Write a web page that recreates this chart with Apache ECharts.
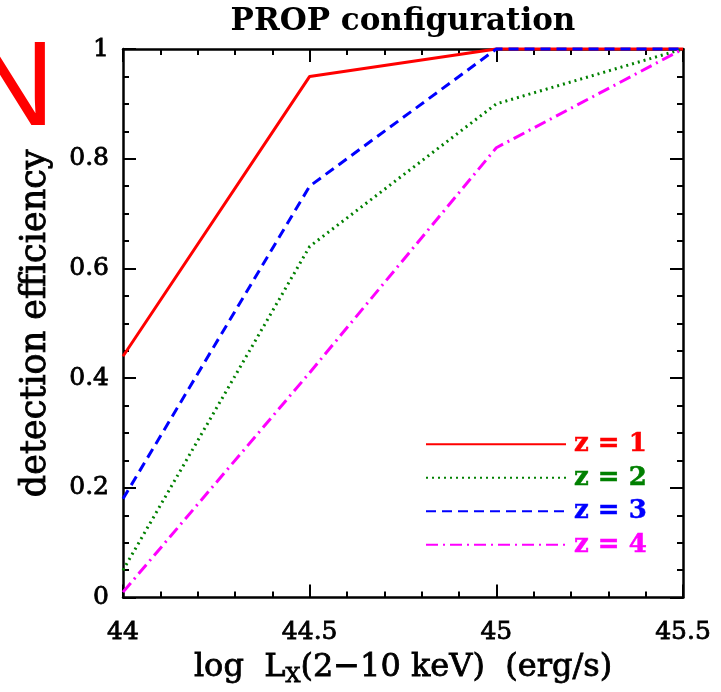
<!DOCTYPE html>
<html>
<head>
<meta charset="utf-8">
<script src="https://cdn.jsdelivr.net/npm/echarts@6/dist/echarts.min.js"></script>
<style>
  html, body { margin: 0; padding: 0; background: #fff; }
  #chart { width: 721px; height: 692px; }
</style>
</head>
<body>
<div id="chart"></div>
<script>
// log Lx grid points
const logLx = [44, 44.5, 45, 45.5]
// detection efficiency per redshift
const effZ1 = [0.44, 0.95, 1.0, 1.0]
const effZ2 = [0.05, 0.64, 0.90, 1.0]
const effZ3 = [0.18, 0.75, 1.0, 1.0]
const effZ4 = [0.01, 0.41, 0.82, 1.0]
const seriesNames = ['z=1', 'z=2', 'z=3', 'z=4']
const colors = ['#ff0000', '#008000', '#0000ff', '#ff00ff']
const dashes = ['solid', [2, 4], [10, 6], [12, 5, 2, 5]]

const serif = 'DejaVu Serif'
const pairs = (ys) => logLx.map((x, i) => [x, ys[i]])

const chart = echarts.init(document.getElementById('chart'))

const axisLine = { show: true, onZero: false, lineStyle: { color: '#000', width: 2.5 } }
const axisTick = { show: true, inside: true, length: 13, lineStyle: { color: '#000', width: 2 } }
const minorTick = { show: true, length: 6, lineStyle: { color: '#000', width: 2 } }
// thicken glyphs a bit, the original text is drawn with heavy strokes
const heavy = { textBorderColor: '#000', textBorderWidth: 0.8 }

const option = {
  animation: false,
  backgroundColor: '#fff',
  title: {
    text: 'PROP configuration',
    left: 398,
    textAlign: 'center',
    top: 1,
    textStyle: { fontFamily: serif, fontSize: 31, fontWeight: 'bold', color: '#000' }
  },
  grid: { left: 123, right: 38, top: 49, bottom: 86 },
  legend: {
    orient: 'vertical',
    left: 425,
    top: 431,
    padding: 0,
    itemWidth: 140,
    itemHeight: 14,
    itemGap: 7,
    itemStyle: { opacity: 0 },
    data: seriesNames.map((n, i) => ({ name: n, textStyle: { color: colors[i], textBorderColor: colors[i] } })),
    formatter: (n) => n.replace('=', ' = '),
    textStyle: { fontFamily: serif, fontSize: 26, fontWeight: 'bold', lineHeight: 14, padding: [0, 0, 0, 3], textBorderWidth: 0.5 },
    selectedMode: false
  },
  xAxis: [
    {
      type: 'value', min: 44, max: 45.5, interval: 0.5, position: 'bottom',
      axisLine, axisTick, minorTick: { ...minorTick, splitNumber: 5 },
      splitLine: { show: false },
      axisLabel: { color: '#000', fontFamily: serif, fontSize: 25, margin: 22, ...heavy },
      name: '{n|log  L}{s|X}{n|(2\u221210 keV)  (erg/s)}',
      nameLocation: 'middle', nameGap: 52,
      nameTextStyle: {
        rich: {
          n: { fontFamily: serif, fontSize: 32, color: '#000', ...heavy },
          s: { fontFamily: serif, fontSize: 21, color: '#000', ...heavy, verticalAlign: 'bottom', padding: [16, 0, 0, 0] }
        }
      }
    },
    {
      type: 'value', min: 44, max: 45.5, interval: 0.5, position: 'top',
      axisLine, axisTick, minorTick: { ...minorTick, splitNumber: 5 },
      splitLine: { show: false }, axisLabel: { show: false }
    }
  ],
  yAxis: [
    {
      type: 'value', min: 0, max: 1, interval: 0.2, position: 'left',
      axisLine, axisTick, minorTick: { ...minorTick, splitNumber: 4 },
      splitLine: { show: false },
      axisLabel: { color: '#000', fontFamily: serif, fontSize: 25, margin: 14, ...heavy },
      name: 'detection efficiency',
      nameLocation: 'middle', nameGap: 70, nameRotate: 90,
      nameTextStyle: { fontFamily: serif, fontSize: 35, color: '#000', ...heavy }
    },
    {
      type: 'value', min: 0, max: 1, interval: 0.2, position: 'right',
      axisLine, axisTick, minorTick: { ...minorTick, splitNumber: 4 },
      splitLine: { show: false }, axisLabel: { show: false }
    }
  ],
  graphic: [
    {
      type: 'text', left: -32, top: 32,
      style: { text: 'N', fill: '#ff0000', font: '120px "Liberation Sans"' }
    }
  ],
  series: [effZ1, effZ2, effZ3, effZ4].map((ys, i) => ({
    name: seriesNames[i],
    type: 'line',
    data: pairs(ys),
    showSymbol: false,
    symbol: 'none',
    clip: false,
    color: colors[i],
    lineStyle: { color: colors[i], width: 3, type: dashes[i], cap: 'butt' }
  }))
}

chart.setOption(option)
</script>
</body>
</html>
